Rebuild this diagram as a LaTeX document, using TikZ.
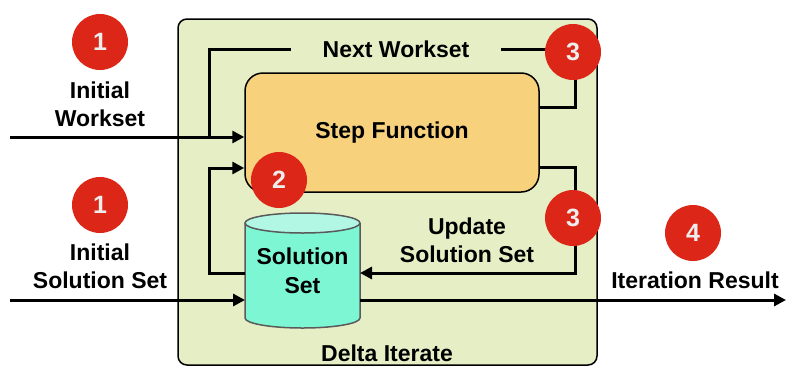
\documentclass[tikz,border=0pt]{standalone}
\usepackage{fontspec}
\setmainfont{Liberation Sans}
\usetikzlibrary{arrows.meta}
\definecolor{boxgreen}{HTML}{E6EEC5}
\definecolor{steporange}{HTML}{F8D17D}
\definecolor{cylbody}{HTML}{7DF7D3}
\definecolor{cyltop}{HTML}{B2F7E4}
\definecolor{cylborder}{HTML}{5A5A5A}
\definecolor{badge}{HTML}{DC2718}
\definecolor{badgetext}{HTML}{EEEEEE}
\begin{document}
\begin{tikzpicture}[x=1pt,y=-1pt,
  lbl/.style={font=\fontsize{23}{28}\selectfont\bfseries, align=center, inner sep=0pt},
  flow/.style={line width=3pt, -{Triangle[length=12pt,width=12pt]}},
  wire/.style={line width=3pt},
  badgestyle/.style={circle, fill=badge, text=badgetext, minimum size=56pt, inner sep=0pt, font=\fontsize{25}{25}\selectfont\bfseries}]
\useasboundingbox (0,0) rectangle (786,367);
% container
\node[draw, line width=1.5pt, fill=boxgreen, rounded corners=9pt, minimum width=419pt, minimum height=346pt, inner sep=0pt] (delta) at (387.5,192) {};
\node[lbl] (dlabel) at (387,353) {Delta Iterate};
% step function
\node[draw, line width=1.5pt, fill=steporange, rounded corners=18pt, minimum width=294pt, minimum height=119pt, inner sep=0pt, font=\fontsize{23}{28}\selectfont\bfseries] (step) at (392,132.5) {Step Function};
% cylinder
\fill[cylbody] (245,223) -- (245,318) arc[start angle=180,end angle=360,x radius=57.5pt,y radius=10pt] -- (360,223) -- cycle;
\draw[cylborder, line width=1.5pt] (245,223) -- (245,318) arc[start angle=180,end angle=360,x radius=57.5pt,y radius=10pt] -- (360,223);
\filldraw[fill=cyltop, draw=cylborder, line width=1.5pt] (302.5,223) ellipse[x radius=57.5pt, y radius=10pt];
\node[lbl, minimum width=115pt, minimum height=115pt, outer sep=0pt, font=\fontsize{23}{29}\selectfont\bfseries] (ss) at (302.5,270.5) {Solution\\Set};
% labels
\node[lbl, inner xsep=32pt] (nw) at (396,49) {Next Workset};
\node[lbl] (iwl) at (100,104) {Initial\\Workset};
\node[lbl] (isl) at (100,266) {Initial\\Solution Set};
\node[lbl] (upl) at (467,240.5) {Update\\Solution Set};
\node[lbl] (irl) at (695,280) {Iteration Result};
% coordinates
\coordinate (iw) at (10,137);
\coordinate (is) at (10,300);
\coordinate (out) at (786,300);
\coordinate (nwR) at (575,107);
\coordinate (nwJ) at (209,137);
\coordinate (ssL) at (209,273);
\coordinate (in2) at (209,168);
\coordinate (upR) at (575,167);
\coordinate (upB) at (575,273);
% connectors
\draw[flow] (iw) -- (iw -| step.west);
\draw[wire] (step.east |- nwR) -- (nwR) -- (nwR |- nw) -- (nw.east);
\draw[wire] (nw.west) -- (nw.west -| nwJ) -- (nwJ);
\draw[flow] (ss.west |- ssL) -- (ssL) -- (in2) -- (in2 -| step.west);
\draw[flow] (step.east |- upR) -- (upR) -- (upB) -- (upB -| ss.east);
\draw[flow] (is) -- (is -| ss.west);
\draw[flow] (ss.east |- out) -- (out);
% badges
\node[badgestyle] (b1a) at (100,42) {1};
\node[badgestyle] (b1b) at (100,205) {1};
\node[badgestyle] (b2) at (279,180) {2};
\node[badgestyle] (b3a) at (573,52) {3};
\node[badgestyle] (b3b) at (573,218) {3};
\node[badgestyle] (b4) at (693,233) {4};
\end{tikzpicture}
\end{document}
